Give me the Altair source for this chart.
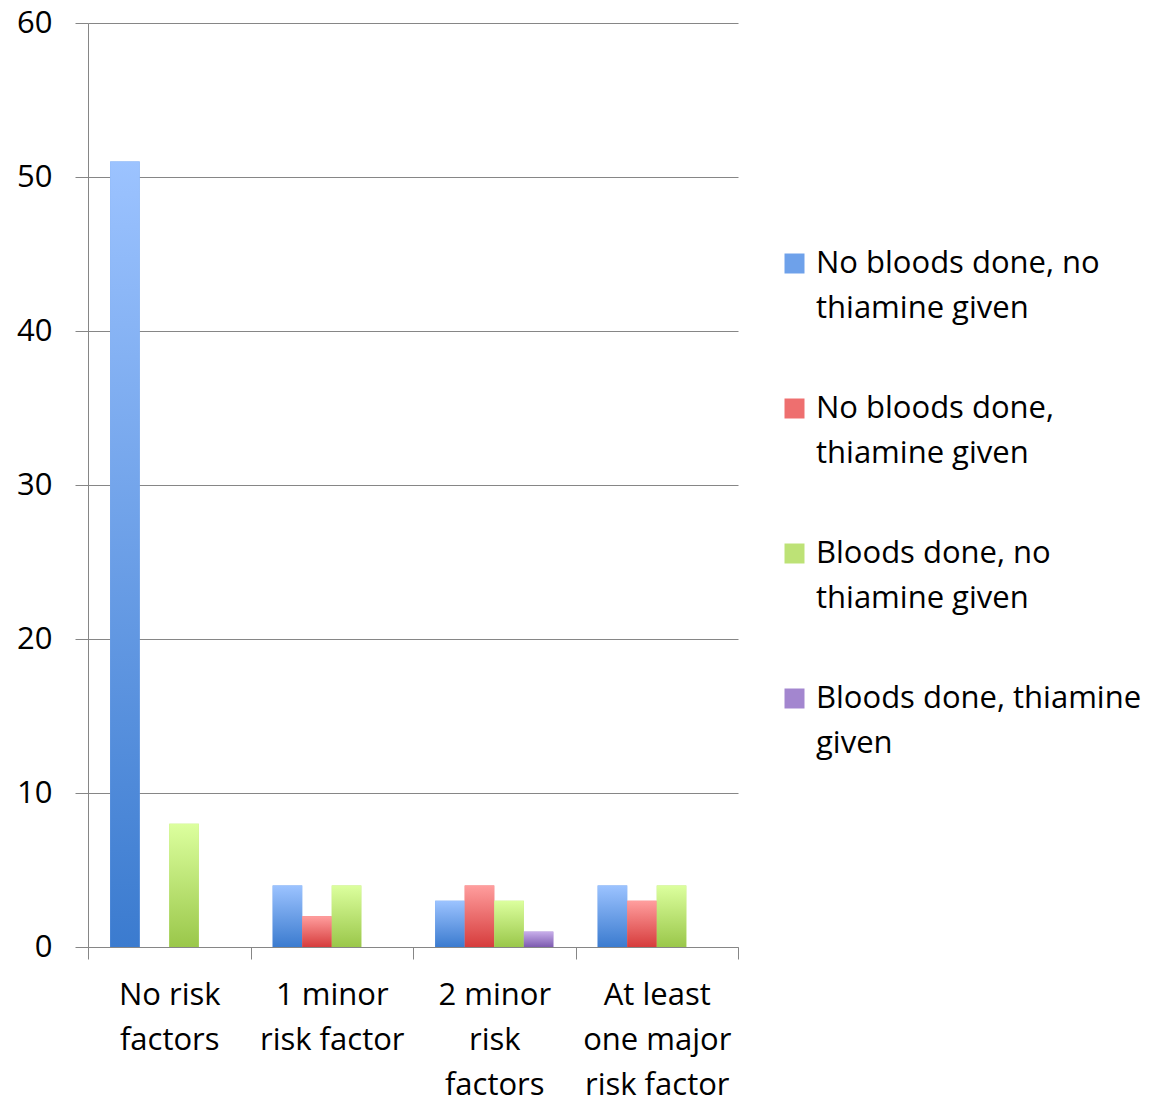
import altair as alt
import pandas as pd

categories = ["No risk\nfactors", "1 minor\nrisk factor", "2 minor\nrisk\nfactors", "At least\none major\nrisk factor"]
series = [
    "No bloods done, no\nthiamine given",
    "No bloods done,\nthiamine given",
    "Bloods done, no\nthiamine given",
    "Bloods done, thiamine\ngiven",
]
values_s1 = [51, 4, 3, 4]
values_s2 = [0, 2, 4, 3]
values_s3 = [8, 4, 3, 4]
values_s4 = [0, 0, 1, 0]
all_values = [values_s1, values_s2, values_s3, values_s4]

top_colors = ["#9cc3ff", "#ff9e9e", "#dcff9e", "#c8aeea"]
bottom_colors = ["#3b7bcf", "#d63c3c", "#9ac74a", "#7d5bb0"]
legend_colors = ["#6ea1ea", "#ee6f6f", "#bde276", "#a386cf"]

rows = []
for s, vals in zip(series, all_values):
    for c, v in zip(categories, vals):
        rows.append({"category": c, "series": s, "value": v})
df = pd.DataFrame(rows)

FONT = "Open Sans"
FS = 31
GRID = "#868686"

x_enc = alt.X(
    "category:N",
    sort=categories,
    scale=alt.Scale(domain=categories, paddingInner=0, paddingOuter=0),
    axis=alt.Axis(
        title=None, labelAngle=0, labelExpr="split(datum.label, '\\n')",
        tickBand="extent", tickSize=12, labelPadding=21, labelFontSize=FS,
        labelLineHeight=45, labelFont=FONT, labelColor="#000000",
        domainColor=GRID, tickColor=GRID, labelAlign="center",
    ),
)
xoff_enc = alt.XOffset(
    "series:N", sort=series,
    scale=alt.Scale(domain=series, paddingOuter=0.75, paddingInner=0),
)
y_enc = alt.Y(
    "value:Q",
    scale=alt.Scale(domain=[0, 60], nice=False),
    axis=alt.Axis(
        title=None, values=[0, 10, 20, 30, 40, 50, 60], grid=True,
        gridColor=GRID, domainColor=GRID, tickColor=GRID, tickSize=13,
        labelPadding=23, labelFontSize=FS, labelFont=FONT, labelColor="#000000",
    ),
)

base = alt.Chart(df)

solid = base.mark_bar().encode(
    x=x_enc, xOffset=xoff_enc, y=y_enc,
    color=alt.Color(
        "series:N", sort=series,
        scale=alt.Scale(domain=series, range=legend_colors),
        legend=alt.Legend(
            title=None, orient="none", legendX=691, legendY=225,
            symbolType="square", symbolSize=400, symbolStrokeWidth=0,
            labelFontSize=FS, labelFont=FONT, labelColor="#000000",
            labelLimit=400, labelOffset=6, labelBaseline="middle",
            labelExpr="split(datum.label, '\\n')",
            rowPadding=68, padding=0,
        ),
    ),
)

layers = [solid]
for s, t, b in zip(series, top_colors, bottom_colors):
    grad = alt.LinearGradient(
        gradient="linear", x1=0, x2=0, y1=0, y2=1,
        stops=[alt.GradientStop(color=t, offset=0), alt.GradientStop(color=b, offset=1)],
    )
    layers.append(
        base.mark_bar(fill=grad).encode(x=x_enc, xOffset=xoff_enc, y=y_enc)
        .transform_filter(alt.datum.series == s)
    )

chart = alt.layer(*layers).properties(
    width=650, height=924,
    autosize=alt.AutoSizeParams(type="none"),
    padding={"left": 88, "top": 23, "right": 428, "bottom": 154},
    background="#ffffff",
).configure(
    style={"guide-label": {"lineHeight": 45}},
    view=alt.ViewConfig(stroke=None),
)

chart.save("out.html", embed_options={"renderer": "svg", "actions": False})
